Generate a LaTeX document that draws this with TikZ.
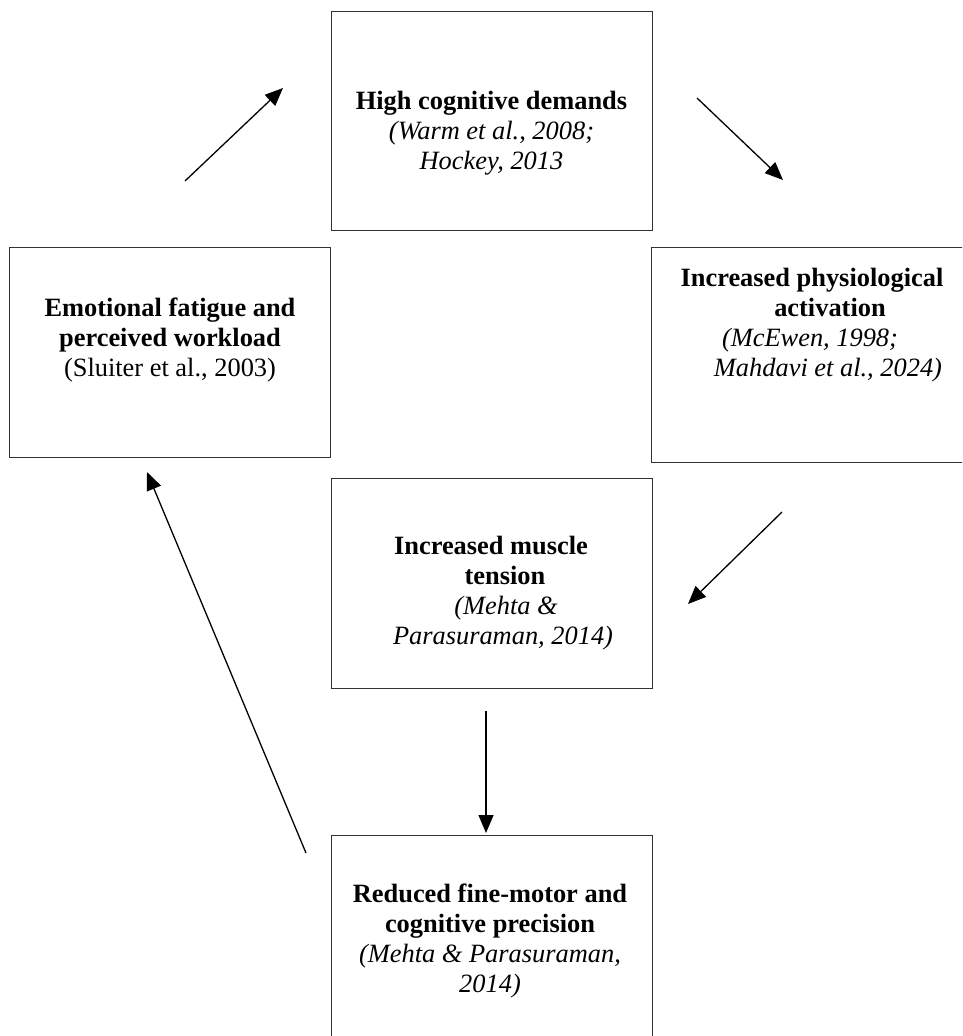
\documentclass[tikz,border=0pt]{standalone}
\usepackage{fontspec}
\setmainfont{Liberation Serif}
\usetikzlibrary{arrows.meta}
\newcommand{\mvline}[2]{\kern#1\relax#2\kern-#1\relax}
\begin{document}
\begin{tikzpicture}[x=1pt,y=-1pt,
  boxnode/.style={rectangle, draw=black!80, line width=1.4pt, minimum width=321pt, inner sep=0pt, anchor=north west},
  lbl/.style={align=center, font=\fontsize{26.4pt}{30pt}\selectfont, inner sep=0pt},
  arr/.style={line width=1.3pt, draw=black, -{Triangle[length=18pt,width=15pt]}}]
\useasboundingbox (0,0) rectangle (962,1036);
\clip (0,0) rectangle (962,1036);

% boxes
\node[boxnode, minimum height=219pt] (top) at (331,11) {};
\node[boxnode, minimum height=210pt] (left) at (9,247) {};
\node[boxnode, minimum height=215pt] (right) at (651,247) {};
\node[boxnode, minimum height=210pt] (mid) at (331,478) {};
\node[boxnode, minimum height=220pt] (bot) at (331,835) {};

% texts
\node[lbl] (toptext) at (491.5,133) {\textbf{High cognitive demands}\\ \textit{(Warm et al., 2008;}\\ \textit{Hockey, 2013}};
\node[lbl] (lefttext) at (170,340) {\textbf{Emotional fatigue and}\\ \textbf{perceived workload}\\ (Sluiter et al., 2003)};
\node[lbl] (righttext) at (812,325) {\textbf{Increased physiological}\\ \mvline{18pt}{\textbf{activation}}\\ \mvline{-2pt}{\textit{(McEwen, 1998;}}\\ \mvline{16pt}{\textit{Mahdavi et al., 2024)}}};
\node[lbl] (midtext) at (491,593) {\textbf{Increased muscle}\\ \mvline{14pt}{\textbf{tension}}\\ \mvline{15pt}{\textit{(Mehta \&}}\\ \mvline{12pt}{\textit{Parasuraman, 2014)}}};
\node[lbl] (bottext) at (490,941) {\textbf{Reduced fine-motor and}\\ \textbf{cognitive precision}\\ \textit{(Mehta \& Parasuraman,}\\ \textit{2014)}};

% arrow end points
\coordinate (a1s) at (185,181);
\coordinate (a1e) at (283,88);
\coordinate (a2s) at (697,98);
\coordinate (a2e) at (783,180);
\coordinate (a3s) at (782,512);
\coordinate (a3e) at (688,604);
\coordinate (a4s) at (486,711);
\coordinate (a4e) at (486,833);
\coordinate (a5s) at (306,853);
\coordinate (a5e) at (147,472);

\draw[arr] (a1s) -- (a1e);
\draw[arr] (a2s) -- (a2e);
\draw[arr] (a3s) -- (a3e);
\draw[arr] (a4s) -- (a4e);
\draw[arr] (a5s) -- (a5e);
\end{tikzpicture}
\end{document}
